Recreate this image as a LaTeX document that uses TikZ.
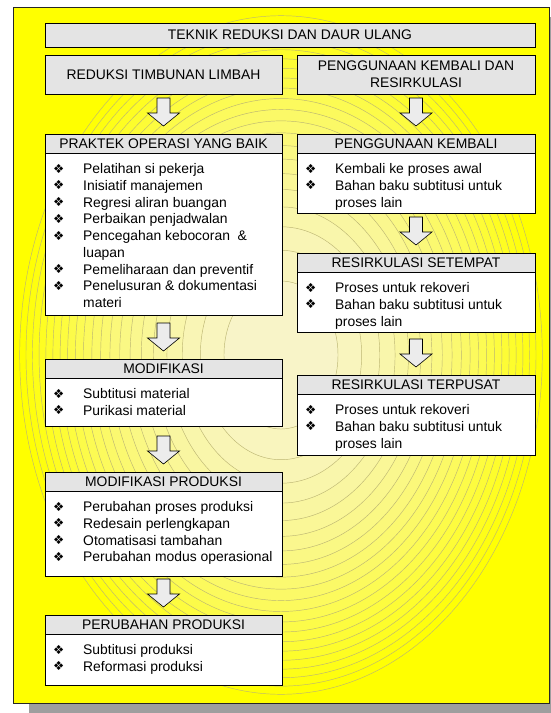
\documentclass[tikz,border=0pt]{standalone}
\usepackage{fontspec}
\setmainfont{Liberation Sans}
\newfontfamily\dejavu{DejaVu Sans}
\usetikzlibrary{calc}
\definecolor{cream}{RGB}{248,244,205}
\definecolor{ringc}{RGB}{188,182,115}
\definecolor{hdrgray}{RGB}{228,228,228}
\definecolor{shadowgray}{RGB}{158,158,158}
\definecolor{arrowfill}{RGB}{236,236,236}
\definecolor{pureyellow}{RGB}{255,255,0}
\tikzset{
  every node/.style={font=\fontsize{13.9}{16.7}\selectfont},
  hdr/.style={draw=black, line width=0.8pt, fill=hdrgray, anchor=north west, inner sep=0pt, outer sep=0pt},
  bodybox/.style={draw=black, line width=0.8pt, fill=white, anchor=north west, inner sep=0pt, outer sep=0pt},
  item/.style={anchor=base west, inner sep=0pt},
  blockarrow/.style={draw=black, line width=0.6pt, fill=arrowfill, line join=miter},
  ringline/.style={draw=ringc, line width=0.45pt},
  framebox/.style={draw=black!85, line width=0.9pt},
}
\newcommand\bul{\makebox[30pt][l]{\raisebox{0.3pt}{\dejavu\fontsize{12.5}{12.5}\selectfont ❖}}}
\newcommand\nob{\hspace*{30pt}}
% name, x, y, width, body height, title
\newcommand\stagebox[6]{%
  \node[hdr, minimum width=#4pt, minimum height=19.5pt] (#1) at (#2,#3) {#6};
  \node[bodybox, minimum width=#4pt, minimum height=#5pt] (#1-b) at (#1.south west) {};
}
\newcommand\stageitems[2]{%
  \foreach \itm [count=\n] in {#2} {%
    \node[item] (#1-i\n) at ($(#1-b.north west)+(8,{20+16.75*(\n-1)})$) {\itm};
  }%
}
% block arrow from node #1 to node #2
\newcommand\blockarr[2]{%
  \coordinate (#1-tip) at ($(#1.south |- #2.north)+(0,-8)$);
  \draw[blockarrow] ($(#1-tip)+(-6.5,-28)$) -- ++(13,0) -- ++(0,15) -- ++(9.5,0)
     -- (#1-tip) -- ($(#1-tip)+(-16,-13)$) -- ++(9.5,0) -- cycle;
}
\begin{document}
\begin{tikzpicture}[x=1pt,y=-1pt]
\useasboundingbox (0,0) rectangle (551,713);
% shadow and frame
\fill[shadowgray] (29,17) rectangle (565,713);
\fill[pureyellow] (13,7) rectangle (549,703);
\begin{scope}
  \clip (13,7) rectangle (549,703);
  \foreach \k in {21,20,...,1} {
    \pgfmathsetmacro\s{0.975*sqrt(\k/21)}
    \pgfmathsetmacro\ax{268*\s}
    \pgfmathsetmacro\ay{348*\s}
    \pgfmathsetmacro\p{100*(\k-0.5)/21}
    \fill[pureyellow!\p!cream] (281,355) ellipse [x radius=\ax pt, y radius=\ay pt];
    \draw[ringline] (281,355) ellipse [x radius=\ax pt, y radius=\ay pt];
  }
\end{scope}
\draw[framebox] (13,7) rectangle (549,703);

% top boxes
\node[hdr, minimum width=490pt, minimum height=24pt] (tek) at (45,23) {TEKNIK REDUKSI DAN DAUR ULANG};
\node[hdr, minimum width=237pt, minimum height=39pt] (red) at (45,55) {REDUKSI TIMBUNAN LIMBAH};
\node[hdr, minimum width=238pt, minimum height=39pt, align=center] (pen) at (297,55) {PENGGUNAAN KEMBALI DAN\\RESIRKULASI};

% left column
\stagebox{pob}{45}{134}{237}{162}{PRAKTEK OPERASI YANG BAIK}
\stageitems{pob}{\bul Pelatihan si pekerja, \bul Inisiatif manajemen, \bul Regresi aliran buangan, \bul Perbaikan penjadwalan, \bul Pencegahan kebocoran \ \&, \nob luapan, \bul Pemeliharaan dan preventif, \bul Penelusuran \& dokumentasi, \nob materi}
\stagebox{mod}{45}{359}{237}{48}{MODIFIKASI}
\stageitems{mod}{\bul Subtitusi material, \bul Purikasi material}
\stagebox{mpr}{45}{472}{237}{85}{MODIFIKASI PRODUKSI}
\stageitems{mpr}{\bul Perubahan proses produksi, \bul Redesain perlengkapan, \bul Otomatisasi tambahan, \bul Perubahan modus operasional}
\stagebox{per}{45}{615}{237}{51}{PERUBAHAN PRODUKSI}
\stageitems{per}{\bul Subtitusi produksi, \bul Reformasi produksi}

% right column
\stagebox{pk}{297}{134}{238}{60}{PENGGUNAAN KEMBALI}
\stageitems{pk}{\bul Kembali ke proses awal, \bul Bahan baku subtitusi untuk, \nob proses lain}
\stagebox{rs}{297}{253}{238}{60}{RESIRKULASI SETEMPAT}
\stageitems{rs}{\bul Proses untuk rekoveri, \bul Bahan baku subtitusi untuk, \nob proses lain}
\stagebox{rt}{297}{375}{238}{61}{RESIRKULASI TERPUSAT}
\stageitems{rt}{\bul Proses untuk rekoveri, \bul Bahan baku subtitusi untuk, \nob proses lain}

% arrows
\blockarr{red}{pob}
\blockarr{pob-b}{mod}
\blockarr{mod-b}{mpr}
\blockarr{mpr-b}{per}
\blockarr{pen}{pk}
\blockarr{pk-b}{rs}
\blockarr{rs-b}{rt}
\end{tikzpicture}
\end{document}
